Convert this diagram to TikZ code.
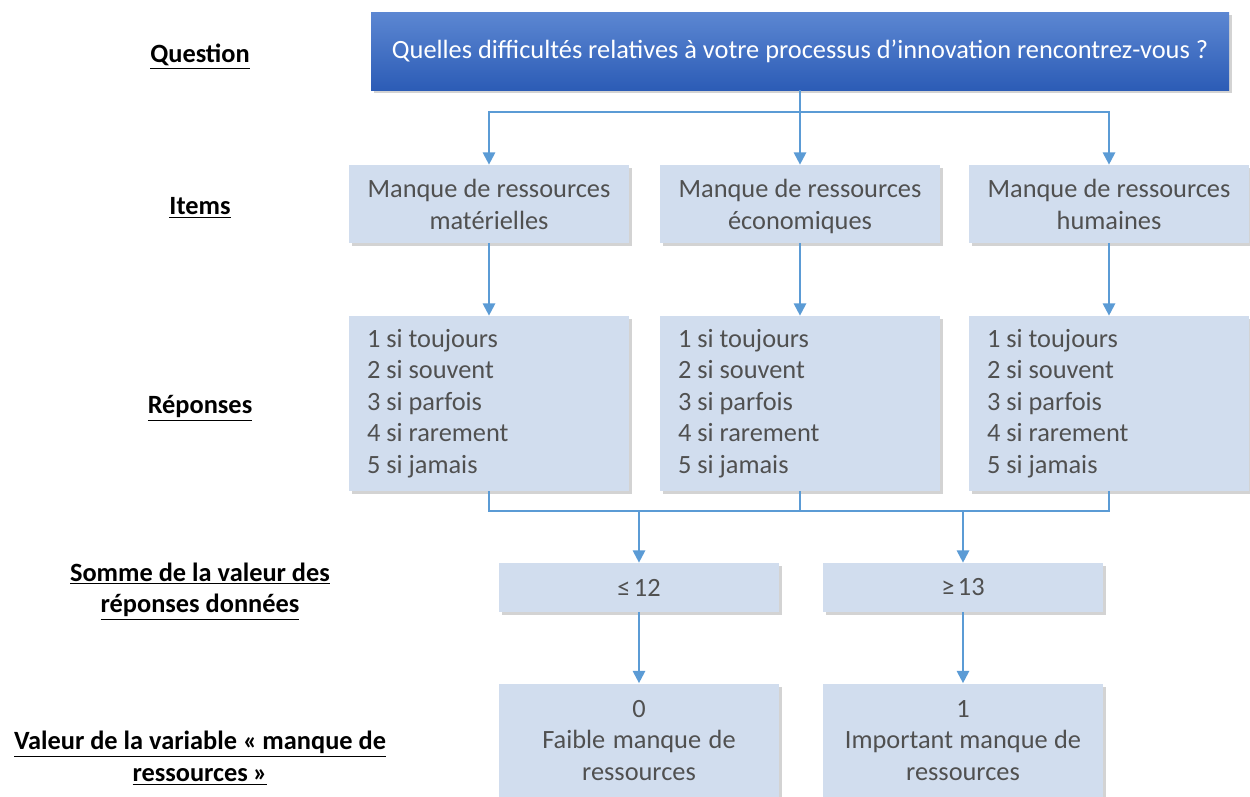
\documentclass[tikz,border=0pt]{standalone}
\usepackage{fontspec}
\setmainfont{Carlito}
\usetikzlibrary{arrows.meta,shadows}
\definecolor{boxfill}{RGB}{209,221,238}
\definecolor{boxtext}{RGB}{80,80,80}
\definecolor{liner}{RGB}{91,155,213}
\definecolor{qtop}{RGB}{92,135,210}
\definecolor{qbottom}{RGB}{44,92,182}

\begin{document}
\begin{tikzpicture}[
        font=\fontsize{15}{18}\selectfont,
        shade box/.style={drop shadow={opacity=0.35, shadow xshift=0.05cm, shadow yshift=-0.06cm}},
        qbox/.style={shade box, top color=qtop, bottom color=qbottom, text=white, minimum width=17.16cm, minimum height=1.56cm, inner sep=0},
        itembox/.style={shade box, fill=boxfill, text=boxtext, text width=5.0cm, inner xsep=0.3cm, inner ysep=0, align=center, minimum height=1.56cm, execute at begin node={\spaceskip=0pt\xspaceskip=0pt\relax}},
        repbox/.style={itembox, align=left, minimum height=3.5cm, inner xsep=0.36cm, text width=4.88cm},
        sumbox/.style={itembox, minimum height=0.98cm},
        valbox/.style={itembox, minimum height=2.28cm},
        label/.style={font=\fontsize{15}{18}\selectfont\bfseries, align=center},
        link/.style={liner, line width=1.2pt},
        arrow/.style={link, -{Triangle[length=7pt,width=7pt]}}
    ]
        \useasboundingbox (0,0) rectangle (25,-15.92);

        \node[qbox] (q) at (16.0,-1.02) {Quelles difficultés relatives à votre processus d’innovation rencontrez-vous ?};

        \node[itembox] (it1) at (9.78,-4.08) {\rule{0pt}{16pt}Manque de ressources\\matérielles\strut};
        \node[itembox] (it2) at (16.0,-4.08) {\rule{0pt}{16pt}Manque de ressources\\économiques\strut};
        \node[itembox] (it3) at (22.18,-4.08) {\rule{0pt}{16pt}Manque de ressources\\humaines\strut};

        \node[repbox] (r1) at (9.78,-8.07) {1 si toujours\\2 si souvent\\3 si parfois\\4 si rarement\\5 si jamais};
        \node[repbox] (r2) at (16.0,-8.07) {1 si toujours\\2 si souvent\\3 si parfois\\4 si rarement\\5 si jamais};
        \node[repbox] (r3) at (22.18,-8.07) {1 si toujours\\2 si souvent\\3 si parfois\\4 si rarement\\5 si jamais};

        \node[sumbox] (s1) at (12.78,-11.75) {≤\kern2pt 12};
        \node[sumbox] (s2) at (19.26,-11.75) {≥\kern2pt 13};

        \node[valbox] (v1) at (12.78,-14.81) {0\\Faible manque de\\ressources};
        \node[valbox] (v2) at (19.26,-14.81) {1\\Important manque de\\ressources};

        \node[label] (lq) at (4.0,-1.13) {\underline{Question}};
        \node[label] (li) at (4.0,-4.15) {\underline{Items}};
        \node[label] (lr) at (4.0,-8.17) {\underline{Réponses}};
        \node[label] (ls) at (4.0,-11.83) {\underline{Somme de la valeur des}\\\underline{réponses données}};
        \node[label] (lv) at (4.0,-15.16) {\underline{Valeur de la variable «\kern3pt manque de}\\\underline{ressources\kern3pt »}};

        \coordinate (top bar) at (0,-2.24);
        \coordinate (low bar) at (0,-10.22);

        \draw[arrow] (q.south) -- (it2.north);
        \draw[arrow] (q.south |- top bar) -| (it1.north);
        \draw[arrow] (q.south |- top bar) -| (it3.north);

        \draw[arrow] (it1) -- (r1);
        \draw[arrow] (it2) -- (r2);
        \draw[arrow] (it3) -- (r3);

        \draw[link] (r1.south) |- (r3.south |- low bar) -- (r3.south);
        \draw[link] (r2.south) -- (r2.south |- low bar);
        \draw[arrow] (s1.north |- low bar) -- (s1.north);
        \draw[arrow] (s2.north |- low bar) -- (s2.north);

        \draw[arrow] (s1) -- (v1);
        \draw[arrow] (s2) -- (v2);
    \end{tikzpicture}
\end{document}
